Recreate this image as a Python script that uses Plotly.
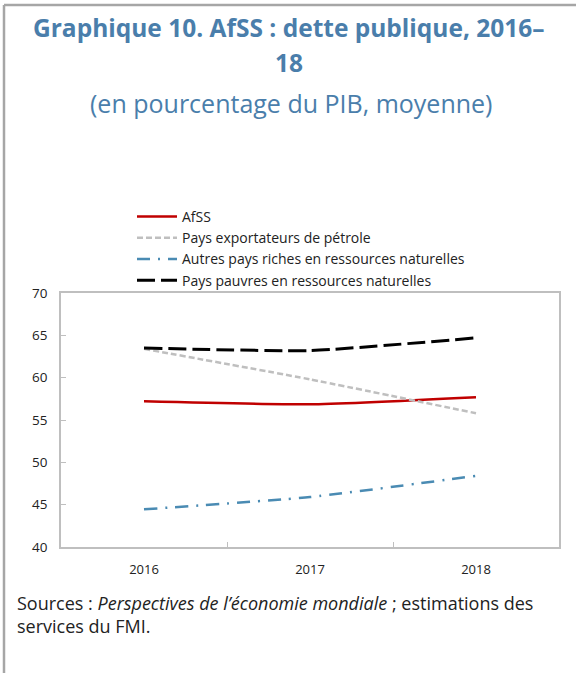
import plotly.graph_objects as go

years = ["2016", "2017", "2018"]
afss = [57.2, 56.85, 57.7]
petrole = [63.4, 59.8, 55.8]
riches = [44.45, 45.9, 48.4]
pauvres = [63.5, 63.2, 64.7]
y_ticks = [40, 45, 50, 55, 60, 65, 70]

series = [
    ("AfSS", afss, "#C00000", None, 2.5),
    ("Pays exportateurs de pétrole", petrole, "#BFBFBF", "6px,3px", 2.5),
    ("Autres pays riches en ressources naturelles", riches, "#4A8BB3", "13px,8px,2px,8px", 2.5),
    ("Pays pauvres en ressources naturelles", pauvres, "#000000", "18px,6px", 3),
]

fig = go.Figure()
for name, vals, col, dash, w in series:
    fig.add_trace(go.Scatter(
        x=years, y=vals, name=name, mode="lines",
        line=dict(color=col, width=w, dash=dash or "solid", shape="spline", smoothing=0.5),
    ))

L, R, T, B = 61, 17, 293, 126
W, H = 576, 673
pw, ph = W - L - R, H - T - B

def px(xp):
    return (xp - L) / pw

def py(yp):
    return (H - B - yp) / ph

fig.update_layout(
    width=W, height=H,
    margin=dict(l=L, r=R, t=T, b=B),
    paper_bgcolor="white", plot_bgcolor="white",
    font=dict(family="Open Sans", size=13, color="#222222"),
    showlegend=True,
    legend=dict(
        x=px(132), y=py(201), xanchor="left", yanchor="top",
        bgcolor="rgba(0,0,0,0)", font=dict(size=14, color="#222222"),
        tracegroupgap=0, itemwidth=40,
    ),
    xaxis=dict(
        type="category", showgrid=False, showline=True, linecolor="#BFBFBF",
        linewidth=1.5, mirror=True, ticks="inside", tickson="boundaries",
        ticklen=5, tickcolor="#BFBFBF", tickfont=dict(size=13, color="#222222"),
        range=[-0.5, 2.5], ticklabelstandoff=10,
    ),
    yaxis=dict(
        range=[40, 70], tickvals=y_ticks, showgrid=False, showline=True,
        linecolor="#BFBFBF", linewidth=1.5, mirror=True, ticks="inside",
        ticklen=5, tickcolor="#BFBFBF", tickfont=dict(size=13.5, color="#222222"),
        zeroline=False, ticklabelstandoff=9,
    ),
    shapes=[
        dict(type="line", xref="paper", yref="paper", x0=px(4), x1=px(576),
             y0=py(5), y1=py(5), line=dict(color="#A6A6A6", width=2.5)),
        dict(type="line", xref="paper", yref="paper", x0=px(4), x1=px(4),
             y0=py(5), y1=py(673), line=dict(color="#A6A6A6", width=2.5)),
    ],
    annotations=[
        dict(text="<b>Graphique 10. AfSS : dette publique, 2016–</b>",
             xref="paper", yref="paper", x=px(289), y=py(27), xanchor="center",
             yanchor="middle", showarrow=False,
             font=dict(size=24.5, color="#4A7EAB", family="Open Sans")),
        dict(text="<b>18</b>",
             xref="paper", yref="paper", x=px(289), y=py(62), xanchor="center",
             yanchor="middle", showarrow=False,
             font=dict(size=24.5, color="#4A7EAB", family="Open Sans")),
        dict(text="(en pourcentage du PIB, moyenne)",
             xref="paper", yref="paper", x=px(291), y=py(103), xanchor="center",
             yanchor="middle", showarrow=False,
             font=dict(size=25, color="#4A7EAB", family="Open Sans")),
        dict(text="Sources : <i>Perspectives de l’économie mondiale</i> ; estimations des<br>services du FMI.",
             xref="paper", yref="paper", x=px(15), y=py(589), xanchor="left",
             yanchor="top", showarrow=False, align="left",
             font=dict(size=18, color="#222222", family="Open Sans")),
    ],
)

fig.write_html("out.html", config={"displayModeBar": False},
               post_script="document.body.style.margin='0';")
